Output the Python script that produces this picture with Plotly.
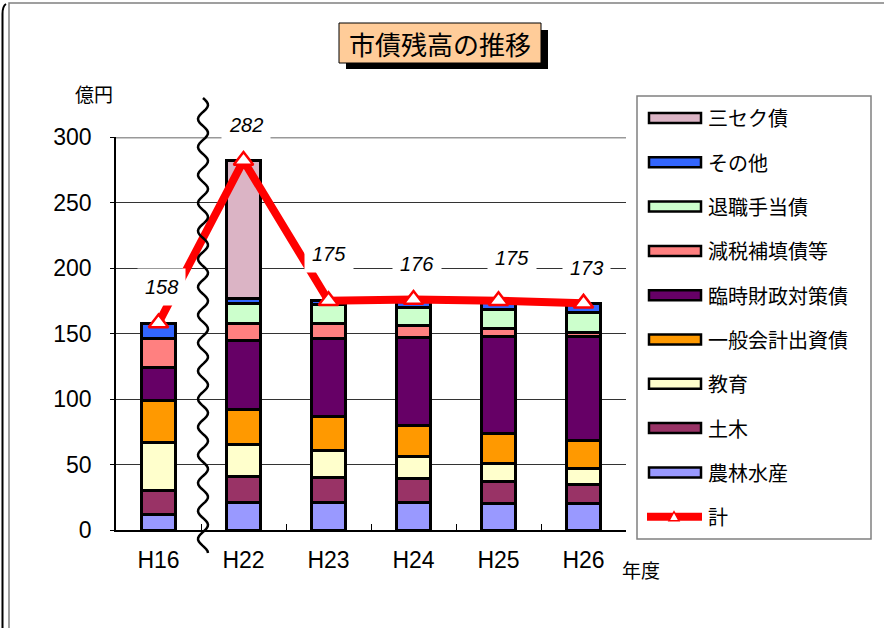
import math
import plotly.graph_objects as go

# ---------------- data ----------------
years = ["H16", "H22", "H23", "H24", "H25", "H26"]
nourin = [12, 21, 21, 21, 20, 20]          # 農林水産
doboku = [18, 20, 19, 18, 17, 15]          # 土木
kyoiku = [37, 24, 21, 17, 14, 12]          # 教育
ippan = [32, 27, 26, 24, 23, 21]           # 一般会計出資債
rinzai = [25, 53, 59, 67, 74, 80]          # 臨時財政対策債
genzei = [22, 13, 12, 9, 6, 3]             # 減税補填債等
taishoku = [0, 15, 14, 14, 14, 15]         # 退職手当債
sonota = [12, 4, 3, 6, 7, 7]               # その他
sanseku = [0, 105, 0, 0, 0, 0]             # 三セク債
total = [158, 282, 175, 176, 175, 173]     # 計

series_names = ["農林水産", "土木", "教育", "一般会計出資債", "臨時財政対策債",
                "減税補填債等", "退職手当債", "その他", "三セク債"]
series_values = [nourin, doboku, kyoiku, ippan, rinzai, genzei, taishoku, sonota, sanseku]
series_colors = ["#9999FF", "#993366", "#FFFFCC", "#FF9900", "#660066",
                 "#FF8080", "#CCFFCC", "#3366FF", "#DBB4C5"]

# label offsets (pixels) for total labels
label_dx = [3, 2, 0, 3, 13, 3]
label_dy = [36, 36, 47, 35, 43, 35]

# ---------------- geometry ----------------
FW, FH = 884, 628
L, R, T, B = 116, 626, 137, 530
PW, PH = R - L, B - T


def px(xp):
    return (xp - L) / PW


def py(yp):
    return (B - yp) / PH


NUM = "Liberation Sans, Arial, sans-serif"
CJK = "Noto Sans CJK JP, sans-serif"


def text_ann(x, y, text, size, xanchor="center", family=CJK):
    return dict(xref="paper", yref="paper", x=px(x), y=py(y), text=text,
                showarrow=False, xanchor=xanchor, yanchor="middle",
                font=dict(family=family, size=size, color="black"))


fig = go.Figure()

for name, vals, col in zip(series_names, series_values, series_colors):
    fig.add_trace(go.Bar(
        x=years, y=vals, name=name, width=0.41,
        marker=dict(color=col, line=dict(color="black", width=3)),
        showlegend=False,
    ))

fig.add_trace(go.Scatter(
    x=years, y=total, name="計", mode="lines+markers",
    line=dict(color="#FF0000", width=8),
    marker=dict(symbol="triangle-up", size=17, color="white",
                line=dict(color="#FF0000", width=2.5)),
    showlegend=False,
))

shapes = []
annotations = []

# outer frame
shapes.append(dict(type="path", xref="paper", yref="paper",
                   path=f"M {px(2.5)},{py(628)} L {px(2.5)},{py(14)} Q {px(2.5)},{py(6)} {px(6)},{py(4)}",
                   line=dict(color="black", width=2), layer="above"))
shapes.append(dict(type="path", xref="paper", yref="paper",
                   path=f"M {px(9)},{py(628)} L {px(9)},{py(3)} L {px(884)},{py(3)}",
                   line=dict(color="#808080", width=1.5), layer="above"))

# top line of plot (300)
shapes.append(dict(type="line", xref="paper", yref="y", x0=0, x1=1, y0=300, y1=300,
                   line=dict(color="#999999", width=3), layer="above"))

# title box with shadow
shapes.append(dict(type="rect", xref="paper", yref="paper",
                   x0=px(346), x1=px(548), y0=py(30), y1=py(69),
                   fillcolor="black", line=dict(width=0), layer="above"))
shapes.append(dict(type="rect", xref="paper", yref="paper",
                   x0=px(339), x1=px(541), y0=py(23), y1=py(63),
                   fillcolor="#FFCC99", line=dict(color="black", width=1), layer="above"))
annotations.append(text_ann(440, 44, "市債残高の推移", 26))

# axis unit labels
annotations.append(text_ann(94, 93, "億円", 19))
annotations.append(text_ann(641, 569, "年度", 19))

# wavy break line
pts = []
y0w, y1w, xc, amp, per = 98, 553, 203, 5.0, 28.0
n = 240
for i in range(n + 1):
    yy = y0w + (y1w - y0w) * i / n
    xx = xc + amp * math.sin(2 * math.pi * (yy - y0w) / per)
    pts.append((px(xx), py(yy)))
path = "M " + " L ".join(f"{a:.5f},{b:.5f}" for a, b in pts)
shapes.append(dict(type="path", xref="paper", yref="paper", path=path,
                   line=dict(color="black", width=2.5), layer="above"))

# total labels
for i, (yr, tv) in enumerate(zip(years, total)):
    annotations.append(dict(x=yr, y=tv, xref="x", yref="y", showarrow=False,
                            xanchor="center", yanchor="middle",
                            text=f"<i>{tv}</i>", xshift=label_dx[i], yshift=label_dy[i],
                            bgcolor="white", borderpad=7,
                            font=dict(family=NUM, size=20, color="black")))

# custom legend
shapes.append(dict(type="rect", xref="paper", yref="paper",
                   x0=px(637), x1=px(871), y0=py(96), y1=py(539),
                   fillcolor="white", line=dict(color="#808080", width=1.5), layer="below"))
legend_order = list(range(len(series_names)))[::-1]
for k, si in enumerate(legend_order):
    yc = 118 + 44.3 * k
    shapes.append(dict(type="rect", xref="paper", yref="paper",
                       x0=px(649), x1=px(701), y0=py(yc - 5), y1=py(yc + 5),
                       fillcolor=series_colors[si], line=dict(color="black", width=2.5),
                       layer="above"))
    annotations.append(text_ann(706, yc, series_names[si], 20, xanchor="left"))
yc = 118 + 44.3 * len(series_names)
shapes.append(dict(type="line", xref="paper", yref="paper",
                   x0=px(647), x1=px(702), y0=py(yc), y1=py(yc),
                   line=dict(color="#FF0000", width=8), layer="above"))
shapes.append(dict(type="path", xref="paper", yref="paper",
                   path=f"M {px(669)},{py(yc + 4)} L {px(679)},{py(yc + 4)} L {px(674)},{py(yc - 5)} Z",
                   fillcolor="white", line=dict(color="#FF0000", width=1.5), layer="above"))
annotations.append(text_ann(706, yc, "計", 20, xanchor="left"))

fig.update_layout(
    width=FW, height=FH,
    margin=dict(l=L, r=FW - R, t=T, b=FH - B, pad=0),
    paper_bgcolor="white", plot_bgcolor="white",
    barmode="stack", bargap=0.59,
    showlegend=False,
    shapes=shapes, annotations=annotations,
    xaxis=dict(
        type="category", range=[-0.5, 5.5],
        showline=True, linecolor="black", linewidth=1.5,
        ticks="inside", tickson="boundaries", ticklen=6, tickcolor="black", tickwidth=1,
        showgrid=False, zeroline=False,
        tickfont=dict(family=NUM, size=23, color="black"),
        ticklabelstandoff=9,
    ),
    yaxis=dict(
        range=[0, 300], dtick=50, tick0=0,
        showline=True, linecolor="black", linewidth=1.5,
        ticks="outside", ticklen=4, tickcolor="black", tickwidth=1,
        showgrid=True, gridcolor="#333333", gridwidth=1,
        zeroline=False,
        tickfont=dict(family=NUM, size=23, color="black"),
        ticklabelstandoff=14,
    ),
)

fig.write_html("out.html", config={"displayModeBar": False},
               post_script="document.body.style.margin='0';document.body.style.overflow='hidden';")
